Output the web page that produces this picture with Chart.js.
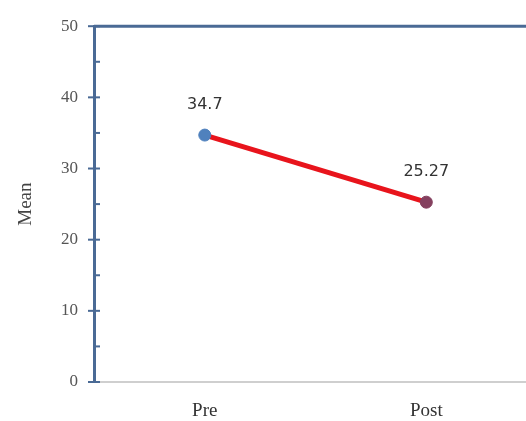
<!DOCTYPE html>
<html>
<head>
<meta charset="utf-8">
<script src="https://cdn.jsdelivr.net/npm/chart.js@4"></script>
<style>
  html, body { margin: 0; padding: 0; background: #fff; overflow: hidden; }
</style>
</head>
<body>
<canvas id="meanChart" width="526" height="421"></canvas>
<script>
const categories = ["Pre", "Post"];
const meanValues = [34.7, 25.27];
const valueLabels = ["34.7", "25.27"];
const yTicks = [0, 10, 20, 30, 40, 50];

const serif = "'Liberation Serif', 'Times New Roman', serif";

// axis frame, tick marks and value labels
const framePlugin = {
  id: "frame",
  afterDraw(chart) {
    const ctx = chart.ctx;
    const area = chart.chartArea;
    const y = chart.scales.y;
    ctx.save();
    ctx.strokeStyle = "#4a6a95";
    ctx.lineWidth = 3;
    ctx.beginPath();
    ctx.moveTo(area.left, area.top);
    ctx.lineTo(area.right, area.top);
    ctx.stroke();
    ctx.lineWidth = 2;
    yTicks.forEach((t) => {
      const py = y.getPixelForValue(t);
      ctx.beginPath();
      ctx.moveTo(area.left - 6, py);
      ctx.lineTo(area.left + 6, py);
      ctx.stroke();
      if (t < 50) {
        const my = y.getPixelForValue(t + 5);
        ctx.beginPath();
        ctx.moveTo(area.left, my);
        ctx.lineTo(area.left + 6, my);
        ctx.stroke();
      }
    });
    const meta = chart.getDatasetMeta(0);
    ctx.fillStyle = "#333";
    ctx.font = "16px 'DejaVu Sans', sans-serif";
    ctx.textAlign = "center";
    ctx.textBaseline = "bottom";
    meta.data.forEach((pt, i) => {
      ctx.fillText(valueLabels[i], pt.x, pt.y - 22);
    });
    ctx.restore();
  }
};

new Chart(document.getElementById("meanChart"), {
  type: "line",
  data: {
    datasets: [
      {
        label: "Mean",
        data: meanValues.map((v, i) => ({ x: i, y: v })),
        borderColor: "#e8141c",
        borderWidth: 5,
        pointRadius: 6,
        pointBorderWidth: 1,
        pointBackgroundColor: ["#4f81bd", "#84405f"],
        pointBorderColor: ["#4f81bd", "#84405f"],
        tension: 0,
      },
    ],
  },
  options: {
    responsive: false,
    animation: false,
    layout: { autoPadding: false, padding: { top: 25, right: 0, left: 0, bottom: 0 } },
    plugins: { legend: { display: false }, tooltip: { enabled: false } },
    scales: {
      x: {
        type: "linear",
        min: -0.5,
        max: 1.45,
        afterBuildTicks: (scale) => {
          scale.ticks = categories.map((c, i) => ({ value: i }));
        },
        afterFit: (scale) => {
          scale.height = 39;
          scale.paddingLeft = 0;
          scale.paddingRight = 0;
        },
        grid: { display: false, drawTicks: false },
        border: { color: "#cfcfcf", width: 2 },
        ticks: {
          padding: 18,
          color: "#333",
          font: { family: serif, size: 19 },
          callback: (v) => categories[v],
        },
      },
      y: {
        min: 0,
        max: 50,
        afterBuildTicks: (scale) => {
          scale.ticks = yTicks.map((v) => ({ value: v }));
        },
        afterFit: (scale) => { scale.width = 94; },
        grid: { display: false, drawTicks: false },
        border: { color: "#4a6a95", width: 3 },
        ticks: {
          padding: 16,
          color: "#555",
          font: { family: serif, size: 17 },
        },
        title: {
          display: true,
          text: "Mean",
          color: "#444",
          font: { family: serif, size: 19 },
          padding: { top: 15, bottom: 0 },
        },
      },
    },
  },
  plugins: [framePlugin],
});
</script>
</body>
</html>
